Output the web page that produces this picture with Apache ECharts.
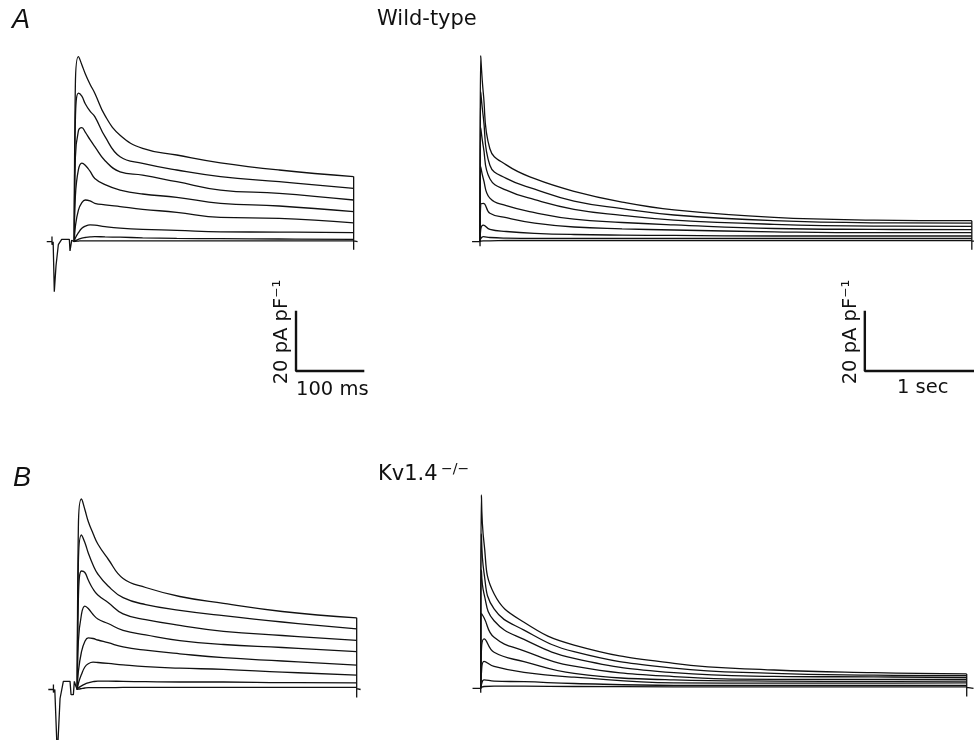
<!DOCTYPE html>
<html>
<head>
<meta charset="utf-8">
<script src="https://cdn.jsdelivr.net/npm/echarts@6/dist/echarts.min.js"></script>
<style>
html,body{margin:0;padding:0;background:#fff;}
#chart{width:974px;height:740px;}
</style>
</head>
<body>
<div id="chart"></div>
<script>
// time points (ms) for the short (left) panels
var tShort = [0, 1.5, 6, 11, 16, 23, 30, 45, 67, 100, 150, 214, 300, 409];
// wild-type, short time scale (pA/pF), largest step first
var wtShort = [
    [0, 52, 61.7, 59, 56, 52.5, 49.5, 42, 35.5, 31.1, 28.9, 26.3, 23.9, 21.7],
    [0, 40, 49.5, 48.5, 46, 43.5, 41.7, 35, 28.3, 26.1, 23.9, 21.7, 20, 17.8],
    [0, 28, 37, 38, 36.5, 34, 31.7, 27, 23.3, 22.2, 20, 17.2, 16.1, 13.9],
    [0, 15, 24, 26.2, 25.5, 23.5, 21.1, 19, 17.2, 15.9, 14.8, 12.8, 11.9, 10],
    [0, 5, 10.5, 13, 13.9, 13.6, 12.8, 12.3, 11.7, 10.8, 9.8, 8.1, 7.8, 6.3],
    [0, 1.2, 3, 4.5, 5.2, 5.6, 5.5, 5, 4.5, 4.1, 3.8, 3.3, 3.2, 3.0],
    [0, 0.3, 0.8, 1.2, 1.4, 1.6, 1.7, 1.6, 1.5, 1.3, 1.1, 1, 0.9, 0.8],
    [0, 0.1, 0.2, 0.3, 0.3, 0.3, 0.3, 0.3, 0.3, 0.3, 0.3, 0.3, 0.3, 0.3]
];
// Kv1.4-/-, short time scale
var koShort = [
    [0, 54, 63.5, 60, 56, 52, 48.5, 43.5, 37, 34, 31, 28.7, 26, 23.9],
    [0, 42, 51.5, 49, 45.5, 41.5, 38.5, 34.5, 30.6, 28.3, 26.4, 24.6, 22.5, 20.2],
    [0, 30, 39.5, 39, 36.5, 33.5, 31.5, 29, 25.2, 23.3, 21.4, 19.4, 18, 16.4],
    [0, 16, 25, 27.8, 27, 25, 23.5, 22, 19.7, 18.2, 16.3, 15, 14, 12.6],
    [0, 6, 12.5, 16, 17.2, 17, 16.5, 15.6, 14.2, 13.1, 11.9, 10.6, 9.5, 8.1],
    [0, 2, 5, 7.5, 8.6, 9.1, 9, 8.7, 8.2, 7.6, 7.1, 6.7, 5.8, 4.8],
    [0, 0.5, 1.2, 1.8, 2.2, 2.6, 2.8, 2.8, 2.7, 2.6, 2.5, 2.5, 2.3, 2.2],
    [0, 0.1, 0.3, 0.5, 0.6, 0.6, 0.6, 0.6, 0.7, 0.7, 0.7, 0.7, 0.7, 0.7]
];
// long time scale (right panels)
var tLongA = [0, 6, 30, 90, 240, 500, 860, 1300, 1775, 2690, 3605, 4500];
var wtLong = [
    [0, 62, 49.5, 31, 25.6, 21, 16.8, 13.2, 10.6, 8.1, 7.2, 7.0],
    [0, 50, 41.5, 25.5, 21.1, 17.5, 13.5, 11, 8.9, 7.0, 6.3, 6.2],
    [0, 38, 31.7, 21, 17.2, 14, 10.8, 8.8, 7.2, 5.8, 5.2, 5.1],
    [0, 25, 21, 14.5, 12, 9.7, 7.5, 6.4, 5.6, 4.4, 4.1, 4.0],
    [0, 12.5, 12.8, 9.5, 8, 6.2, 4.9, 4.3, 3.9, 3.3, 3.0, 3.0],
    [0, 4, 5.5, 4.1, 3.4, 2.8, 2.4, 2.2, 2.1, 1.9, 1.9, 1.9],
    [0, 1, 1.7, 1.4, 1.2, 1.1, 1.1, 1.1, 1.1, 1.1, 1.1, 1.1],
    [0, 0.2, 0.3, 0.3, 0.4, 0.4, 0.4, 0.4, 0.4, 0.4, 0.4, 0.4]
];
var tLongB = [0, 6, 30, 122, 396, 854, 1768, 2683, 3598, 4447];
var koLong = [
    [0, 64.5, 48.5, 31.5, 22, 14.4, 8.3, 6.1, 5.2, 4.8],
    [0, 51.5, 38.5, 26.5, 19.4, 12.2, 6.7, 5.0, 4.4, 4.2],
    [0, 39.5, 31.5, 22.5, 16.3, 10.0, 5.2, 4.0, 3.8, 3.6],
    [0, 25, 23.5, 17, 12.5, 7.4, 3.9, 3.0, 3.0, 3.0],
    [0, 12.5, 16.5, 12, 8.9, 5.0, 2.8, 2.4, 2.3, 2.4],
    [0, 5, 9, 7.3, 5.3, 3.7, 1.8, 1.7, 1.7, 1.8],
    [0, 1.2, 2.8, 2.4, 2.2, 1.6, 1.0, 1.0, 1.0, 1.0],
    [0, 0.3, 0.6, 0.7, 0.7, 0.6, 0.5, 0.5, 0.5, 0.5]
];
// holding / prepulse part before the step, [ms, pA/pF]
var preA = [[-40.4, 0], [-32.7, 0], [-32.7, 1.7], [-32.7, -1], [-31, 0], [-29.3, -16.7], [-26.8, -8], [-23.4, -1],
    [-18.5, 0.8], [-7.3, 0.8], [-6.3, -3.1], [-4.8, -3.1], [-3.8, 0.5], [0, 0]];
var preB = [[-42.5, 0], [-35, 0], [-35, 1.7], [-35, -1], [-33, 0], [-29.3, -22], [-25.3, -3], [-20.5, 2.7],
    [-10.7, 2.7], [-9.2, -1.7], [-5.8, -1.7], [-4.4, 2.7], [-2, 1], [0, 0]];
var preLongA = [[-73, 0], [-1, 0], [0, -1.5], [0, 0]];
var preLongB = [[-75, 0], [-1, 0], [0, -1.5], [0, 0]];
// scale bars: 20 pA/pF and 100 ms / 1 s
var barShort = [[324.6, -23], [324.6, -43.1], [424.6, -43.1]];
var barLong = [[3521, -23], [3521, -43.1], [4521, -43.1]];

var ink = '#111';
var series = [];

function addTraces(gi, times, rows, pre) {
    rows.forEach(function (row) {
        series.push({
            type: 'line', xAxisIndex: gi, yAxisIndex: gi, symbol: 'none',
            smooth: 0.45,
            lineStyle: { color: ink, width: 1.3 },
            data: times.map(function (t, i) { return [t, row[i]]; })
        });
    });
    series.push({
        type: 'line', xAxisIndex: gi, yAxisIndex: gi, symbol: 'none',
        lineStyle: { color: ink, width: 1.3 }, data: pre
    });
    // return to holding at the end of the step
    var tEnd = times[times.length - 1];
    var top = rows[0][rows[0].length - 1];
    var span = times[times.length - 1] - times[0];
    series.push({
        type: 'line', xAxisIndex: gi, yAxisIndex: gi, symbol: 'none',
        lineStyle: { color: ink, width: 1.3 },
        data: [[tEnd, top], [tEnd, -2.7], [tEnd, 0.3], [tEnd + span * 0.014, 0]]
    });
}

addTraces(0, tShort, wtShort, preA);
addTraces(1, tLongA, wtLong, preLongA);
addTraces(2, tShort, koShort, preB);
addTraces(3, tLongB, koLong, preLongB);

[[0, barShort], [1, barLong]].forEach(function (b) {
    series.push({
        type: 'line', xAxisIndex: b[0], yAxisIndex: b[0], symbol: 'none', clip: false,
        lineStyle: { color: ink, width: 2.4 }, data: b[1]
    });
});

var font = '"DejaVu Sans", sans-serif';
function txt(x, y, s, f) {
    return {
        type: 'text', x: x, y: y,
        style: { text: s, font: f, fill: ink, align: 'left', verticalAlign: 'middle',
            textAlign: 'left', textVerticalAlign: 'middle' }
    };
}
function vtxt(x, y, s) {
    return {
        type: 'text', x: x, y: y, rotation: Math.PI / 2,
        style: { text: s, font: '19.5px ' + font, fill: ink,
            align: 'center', verticalAlign: 'middle', textAlign: 'center', textVerticalAlign: 'middle' }
    };
}

var myChart = echarts.init(document.getElementById('chart'));
var option = {
    animation: false,
    backgroundColor: '#fff',
    grid: [
        { left: 47, right: 606, top: 37.7, bottom: 363.3 },
        { left: 471.3, right: 0, top: 37.7, bottom: 363.3 },
        { left: 46.6, right: 609.8, top: 485.5, bottom: 0.1 },
        { left: 472, right: 0.4, top: 484.3, bottom: 0.7 }
    ],
    xAxis: [
        { type: 'value', gridIndex: 0, min: -40, max: 430, show: false },
        { type: 'value', gridIndex: 1, min: -80, max: 4520, show: false },
        { type: 'value', gridIndex: 2, min: -45, max: 420, show: false },
        { type: 'value', gridIndex: 3, min: -80, max: 4510, show: false }
    ],
    yAxis: [
        { type: 'value', gridIndex: 0, min: -45, max: 68, show: false },
        { type: 'value', gridIndex: 1, min: -45, max: 68, show: false },
        { type: 'value', gridIndex: 2, min: -16.8, max: 68, show: false },
        { type: 'value', gridIndex: 3, min: -17, max: 68, show: false }
    ],
    graphic: [
        txt(12, 20, 'A', 'italic 27px "Liberation Sans", sans-serif'),
        txt(377, 20, 'Wild-type', '21px ' + font),
        txt(13, 478, 'B', 'italic 27px "Liberation Sans", sans-serif'),
        txt(378, 475, 'Kv1.4', '21px ' + font),
        txt(441, 469, '\u2212/\u2212', '14px ' + font),
        txt(296, 390, '100 ms', '19.5px ' + font),
        txt(897, 388, '1 sec', '19.5px ' + font),
        vtxt(282, 332, '20 pA pF\u207B\u00B9'),
        vtxt(851, 332, '20 pA pF\u207B\u00B9')
    ],
    series: series
};
myChart.setOption(option);
</script>
</body>
</html>
